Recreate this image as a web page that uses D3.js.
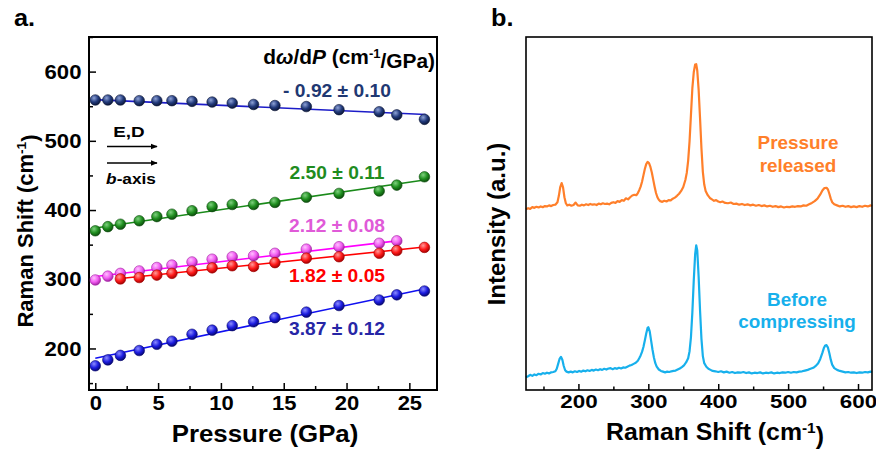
<!DOCTYPE html>
<html>
<head>
  <script src="https://d3js.org/d3.v7.min.js"></script>
  <style>
    body { margin: 0; background: #fff; }
    svg { display: block; }
  </style>
</head>
<body>
  <svg id="fig" width="876" height="453"></svg>
  <script>
    // ---- panel a data: pressure (GPa) and Raman shift (cm-1) ----
    const pressure = [0, 1.0, 2.0, 3.5, 4.9, 6.1, 7.7, 9.3, 10.9, 12.6, 14.3, 16.8, 19.4, 22.6, 24.0, 26.2];
    const modeNavy = [559, 559, 559, 558, 558, 558, 557, 556, 554.5, 552.5, 551, 549.5, 545, 542, 537.5, 531];
    const modeGreen = [370, 376, 379.5, 384.5, 390.5, 394, 399, 405, 408, 408, 411, 418.5, 424, 427.5, 436, 448];
    const modeMagenta = [299, 304.5, 308.5, 312, 317, 320.5, 325, 329, 332.5, 334, 337.5, 343.5, 347, 352, 355.5];
    const modeRed = [null, null, 300.5, 302.5, 306, 308.5, 312, 316.5, 319.5, 318.5, 324, 330.5, 332.5, 337.5, 341.5, 346];
    const modeBlue = [175, 183.5, 190, 197, 206, 210.5, 220.5, 226.5, 233, 238.5, 244.5, 252.5, 262, 270, 277.5, 283];
    // linear fits, [P, shift] at both ends
    const fitNavy = [[-0.1, 559.5], [26.3, 538]];
    const fitGreen = [[0, 374], [26.2, 443.5]];
    const fitMagenta = [[0, 304], [24.0, 355.5]];
    const fitRed = [[2.0, 301], [26.2, 346.5]];
    const fitBlue = [[0, 186], [26.2, 286]];
    const slopeLabels = ["- 0.92 \u00b1 0.10", "2.50 \u00b1 0.11", "2.12 \u00b1 0.08", "1.82 \u00b1 0.05", "3.87 \u00b1 0.12"];
    const pressureTicks = [0, 5, 10, 15, 20, 25];
    const shiftTicks = [200, 300, 400, 500, 600];

    // ---- panel b data: [Raman shift, intensity a.u.] ----
    const released = [
      [125, 51.2], [128, 51.5], [131, 51.3], [134, 51.8], [137, 51.6], [140, 51.9], [143, 51.7], [146, 52.0], [149, 51.8],
      [152, 52.1], [155, 52.0], [158, 52.3], [161, 52.1], [164, 52.4], [167, 52.5], [170, 53.2], [172, 55.0], [174, 57.5],
      [176, 58.6], [178, 57.4], [180, 54.6], [182, 52.9], [184, 52.3], [187, 52.5], [190, 52.2], [193, 52.4], [196, 53.1],
      [199, 52.3], [202, 52.2], [205, 52.5], [208, 52.3], [211, 52.6], [214, 52.4], [217, 52.7], [220, 52.5], [223, 52.6],
      [226, 52.4], [229, 52.8], [232, 52.6], [235, 52.9], [238, 52.7], [241, 52.8], [244, 52.6], [247, 53.0], [250, 53.2],
      [253, 53.0], [256, 53.5], [259, 53.3], [262, 53.8], [265, 53.6], [268, 54.3], [271, 54.0], [274, 54.6], [277, 55.1],
      [280, 55.3], [283, 55.2], [285, 55.8], [287, 56.6], [289, 57.6], [291, 59.0], [293, 60.8], [295, 62.6], [297, 64.0],
      [299, 64.6], [301, 64.3], [303, 63.2], [305, 61.6], [307, 59.6], [309, 57.6], [311, 55.8], [313, 54.6], [315, 53.9],
      [317, 53.5], [320, 53.3], [323, 53.6], [326, 53.4], [329, 53.8], [332, 53.7], [335, 54.2], [338, 54.5], [341, 55.0],
      [344, 55.6], [347, 56.4], [350, 57.5], [353, 59.5], [355, 61.5], [357, 65.0], [359, 70.5], [361, 78.0], [363, 85.5],
      [365, 90.0], [367, 92.2], [368.5, 92.3], [370, 90.5], [372, 85.0], [374, 77.0], [376, 68.5], [378, 61.8], [380, 58.2],
      [382, 56.4], [385, 55.2], [388, 54.4], [391, 54.0], [394, 53.6], [397, 53.8], [400, 53.4], [403, 53.2], [406, 53.4],
      [410, 53.0], [414, 52.9], [418, 53.1], [422, 52.7], [426, 52.8], [430, 52.5], [434, 52.7], [438, 52.4], [442, 52.6],
      [446, 52.3], [450, 52.5], [454, 52.2], [458, 52.4], [462, 52.1], [466, 52.3], [470, 52.0], [474, 52.2], [478, 51.9],
      [482, 52.1], [486, 51.8], [490, 52.0], [494, 51.7], [498, 51.9], [502, 51.8], [506, 52.0], [510, 51.9], [514, 52.1],
      [518, 52.0], [522, 52.3], [526, 52.2], [530, 52.6], [534, 53.0], [538, 53.5], [542, 54.2], [546, 55.4], [549, 56.5],
      [552, 57.2], [555, 57.3], [557, 56.8], [559, 55.6], [561, 54.2], [563, 53.2], [566, 52.6], [570, 52.3], [574, 52.0],
      [578, 52.2], [582, 51.9], [586, 52.1], [590, 51.8], [594, 52.0], [598, 51.8], [602, 52.1], [606, 51.9], [610, 52.2],
      [614, 52.0], [618, 52.3], [620, 52.1]
    ];
    const before = [
      [125, 3.6], [128, 3.9], [131, 4.3], [134, 4.0], [137, 4.4], [140, 4.2], [143, 4.6], [146, 4.4], [149, 4.8], [152, 4.6],
      [155, 4.9], [158, 4.7], [161, 5.0], [164, 5.1], [167, 5.3], [169, 6.0], [171, 7.4], [173, 8.8], [175, 9.4], [177, 8.6],
      [179, 6.8], [181, 5.6], [183, 5.2], [186, 5.0], [189, 5.2], [192, 5.0], [195, 5.3], [198, 5.1], [201, 5.4], [204, 5.2],
      [207, 5.5], [210, 5.3], [213, 5.6], [216, 5.4], [219, 5.7], [222, 5.5], [225, 5.8], [228, 5.6], [231, 5.9], [234, 5.7],
      [237, 6.0], [240, 5.8], [243, 6.1], [246, 6.2], [249, 5.9], [252, 6.2], [255, 6.0], [258, 6.3], [261, 6.1], [264, 6.4],
      [267, 6.3], [270, 6.6], [273, 6.9], [276, 7.1], [279, 7.4], [282, 7.7], [285, 8.3], [287, 9.0], [289, 9.8], [291, 10.8],
      [293, 12.2], [295, 14.0], [297, 16.0], [299, 17.6], [300, 17.8], [302, 16.6], [304, 14.0], [306, 11.4], [308, 9.2],
      [310, 7.6], [312, 6.6], [315, 5.8], [318, 5.4], [321, 5.2], [324, 5.0], [327, 5.2], [330, 5.1], [333, 5.3], [336, 5.4],
      [339, 5.5], [342, 5.8], [345, 6.1], [348, 6.5], [351, 7.0], [354, 7.8], [357, 9.0], [359, 11.0], [361, 15.0],
      [363, 22.0], [365, 31.0], [367, 38.5], [368.5, 41.0], [370, 39.5], [372, 32.0], [374, 22.5], [376, 14.5], [378, 9.6],
      [380, 7.6], [383, 6.6], [386, 6.0], [389, 5.7], [392, 5.4], [396, 5.3], [400, 5.1], [404, 5.3], [408, 5.0], [412, 5.2],
      [416, 4.9], [420, 5.1], [424, 4.8], [428, 5.0], [432, 4.9], [436, 5.1], [440, 4.8], [444, 5.0], [448, 4.7], [452, 4.9],
      [456, 4.8], [460, 5.0], [464, 4.7], [468, 4.9], [472, 4.8], [476, 5.0], [480, 4.7], [484, 4.9], [488, 4.8], [492, 5.0],
      [496, 4.9], [500, 5.1], [504, 4.9], [508, 5.1], [512, 5.0], [516, 5.2], [520, 5.3], [524, 5.5], [528, 5.7], [532, 6.0],
      [536, 6.3], [540, 6.9], [543, 7.6], [546, 8.8], [549, 10.5], [551, 11.8], [553, 12.6], [555, 12.7], [557, 12.0],
      [559, 10.4], [561, 8.6], [563, 7.2], [566, 6.2], [570, 5.7], [574, 5.4], [578, 5.2], [582, 5.0], [586, 5.1], [590, 4.9],
      [594, 5.0], [598, 4.8], [602, 5.0], [606, 4.9], [610, 5.1], [614, 5.0], [618, 5.2], [620, 5.1]
    ];
    const ramanTicks = [200, 300, 400, 500, 600];

    const FONT = "'Liberation Sans', Arial, sans-serif";
    const svg = d3.select("#fig");
    const defs = svg.append("defs");

    // bold text with a slight horizontal stretch like the original figure
    function addText(parent, x, y, size, sx, anchor, fill) {
      const g = parent.append("g").attr("transform", `translate(${x},${y}) scale(${sx},1)`);
      return g.append("text")
        .attr("text-anchor", anchor)
        .attr("fill", fill || "#000")
        .style("font", `bold ${size}px ${FONT}`);
    }
    function supScript(t, s) {
      t.append("tspan").attr("dy", "-0.5em").style("font-size", "0.62em").text(s);
      return t.append("tspan").attr("dy", "0.5em");
    }

    // ======================= panel a =======================
    const xA = d3.scaleLinear().domain([-0.5, 27.2]).range([89, 437]);
    const yA = d3.scaleLinear().domain([140, 650]).range([390, 37]);
    const gA = svg.append("g");

    // axes (ticks point inward)
    const axA1 = gA.append("g").attr("transform", "translate(0,390)")
      .call(d3.axisBottom(xA).tickValues(pressureTicks).tickSize(-7).tickPadding(6));
    gA.append("g").attr("transform", "translate(0,390)")
      .call(d3.axisBottom(xA).tickValues([2.5, 7.5, 12.5, 17.5, 22.5]).tickSize(-4).tickFormat(""));
    const axA2 = gA.append("g").attr("transform", "translate(89,0)")
      .call(d3.axisLeft(yA).tickValues(shiftTicks).tickSize(-7).tickPadding(7));
    gA.append("g").attr("transform", "translate(89,0)")
      .call(d3.axisLeft(yA).tickValues([150, 250, 350, 450, 550, 650]).tickSize(-4).tickFormat(""));
    gA.selectAll(".domain").remove();
    gA.selectAll(".tick line").attr("stroke", "#000").attr("stroke-width", 1.5);
    axA1.selectAll("text").attr("fill", "#000").style("font", `bold 20px ${FONT}`)
      .attr("transform", "scale(1.1,1)");
    axA2.selectAll("text").attr("fill", "#000").style("font", `bold 20.5px ${FONT}`)
      .attr("transform", "scale(1.08,1)");

    gA.append("rect").attr("x", 89).attr("y", 37).attr("width", 348).attr("height", 353)
      .attr("fill", "none").attr("stroke", "#000").attr("stroke-width", 2);

    const series = [
      { vals: modeNavy, fit: fitNavy, dot: ["#8ea2d6", "#223a7c", "#0b1636"], line: "#1c1cc8", lab: "#1f3872", ly: 97 },
      { vals: modeGreen, fit: fitGreen, dot: ["#7fd07f", "#1f8f1f", "#0c4a0c"], line: "#1a8a1a", lab: "#1f8c1f", ly: 179 },
      { vals: modeMagenta, fit: fitMagenta, dot: ["#ffc0ff", "#f25cf2", "#a020a0"], line: "#ff00ff", lab: "#e05ad8", ly: 232 },
      { vals: modeRed, fit: fitRed, dot: ["#ff9a9a", "#ff1a1a", "#a00000"], line: "#ff0000", lab: "#ff0000", ly: 282 },
      { vals: modeBlue, fit: fitBlue, dot: ["#8c8cff", "#1c1ce0", "#06066e"], line: "#1010f0", lab: "#2626a6", ly: 335 }
    ];

    const line = d3.line().x(d => xA(d[0])).y(d => yA(d[1]));
    series.forEach((s, i) => {
      const grad = defs.append("radialGradient").attr("id", "ball" + i)
        .attr("cx", "38%").attr("cy", "32%").attr("r", "70%");
      grad.append("stop").attr("offset", "0%").attr("stop-color", s.dot[0]);
      grad.append("stop").attr("offset", "55%").attr("stop-color", s.dot[1]);
      grad.append("stop").attr("offset", "100%").attr("stop-color", s.dot[2]);

      gA.append("path").attr("d", line(s.fit)).attr("fill", "none")
        .attr("stroke", s.line).attr("stroke-width", 1.6);

      const pts = s.vals.map((v, j) => [pressure[j], v]).filter(d => d[1] != null);
      gA.append("g").selectAll("circle").data(pts).join("circle")
        .attr("cx", d => xA(d[0])).attr("cy", d => yA(d[1])).attr("r", 5.3)
        .attr("fill", `url(#ball${i})`).attr("stroke", s.dot[2]).attr("stroke-width", 0.6);

      addText(gA, 337, s.ly, 18.5, 1.04, "middle", s.lab).text(slopeLabels[i]);
    });

    // slope header
    const hdr = addText(gA, 435, 64, 20.5, 1.02, "end", "#000");
    hdr.append("tspan").text("d");
    hdr.append("tspan").style("font-style", "italic").text("\u03c9");
    hdr.append("tspan").text("/d");
    hdr.append("tspan").style("font-style", "italic").text("P");
    const hRest = hdr.append("tspan").text(" (cm");
    supScript(hdr, "-1").text("/GPa)");

    // polarisation arrows
    defs.append("marker").attr("id", "arrowHead").attr("viewBox", "0 0 10 10")
      .attr("refX", 9).attr("refY", 5).attr("markerWidth", 7).attr("markerHeight", 7)
      .attr("markerUnits", "userSpaceOnUse").attr("orient", "auto")
      .append("path").attr("d", "M0,1 L10,5 L0,9 Z").attr("fill", "#000");
    [146.5, 163].forEach(y => {
      gA.append("line").attr("x1", 107).attr("x2", 157).attr("y1", y).attr("y2", y)
        .attr("stroke", "#000").attr("stroke-width", 1.5).attr("marker-end", "url(#arrowHead)");
    });
    addText(gA, 129, 137, 14.5, 1.3, "middle").text("E,D");
    const bax = addText(gA, 131, 184, 15, 1.15, "middle");
    bax.append("tspan").style("font-style", "italic").text("b");
    bax.append("tspan").text("-axis");

    // axis titles
    addText(gA, 265, 442, 23.5, 1.1, "middle").text("Pressure (GPa)");
    const yt = gA.append("text").attr("transform", "translate(33,231) rotate(-90)")
      .attr("text-anchor", "middle").style("font", `bold 22px ${FONT}`);
    yt.append("tspan").text("Raman Shift (cm");
    supScript(yt, "-1").text(")");

    addText(gA, 14, 26, 23, 1.1, "start").text("a.");

    // ======================= panel b =======================
    const xB = d3.scaleLinear().domain([125, 620]).range([526, 872]);
    const yB = d3.scaleLinear().domain([0, 100]).range([390, 37]);
    const gB = svg.append("g");

    const axB = gB.append("g").attr("transform", "translate(0,390)")
      .call(d3.axisBottom(xB).tickValues(ramanTicks).tickSize(-6).tickPadding(5));
    gB.append("g").attr("transform", "translate(0,390)")
      .call(d3.axisBottom(xB).tickValues([150, 250, 350, 450, 550]).tickSize(-3.5).tickFormat(""));
    gB.selectAll(".domain").remove();
    gB.selectAll(".tick line").attr("stroke", "#000").attr("stroke-width", 1.5);
    axB.selectAll("text").attr("fill", "#000").style("font", `bold 19px ${FONT}`)
      .attr("transform", "scale(1.18,1)");

    const spec = d3.line().x(d => xB(d[0])).y(d => yB(d[1]));
    gB.append("path").attr("d", spec(released)).attr("fill", "none")
      .attr("stroke", "#ff7f2a").attr("stroke-width", 2.2).attr("stroke-linejoin", "round");
    gB.append("path").attr("d", spec(before)).attr("fill", "none")
      .attr("stroke", "#17b0ec").attr("stroke-width", 2.2).attr("stroke-linejoin", "round");

    gB.append("rect").attr("x", 526).attr("y", 37).attr("width", 346).attr("height", 353)
      .attr("fill", "none").attr("stroke", "#000").attr("stroke-width", 1.6);

    addText(gB, 798, 149, 17.5, 1.08, "middle", "#ff7f2a").text("Pressure");
    addText(gB, 798, 172, 17.5, 1.08, "middle", "#ff7f2a").text("released");
    addText(gB, 797, 306, 17.5, 1.08, "middle", "#17b0ec").text("Before");
    addText(gB, 797, 328, 17.5, 1.08, "middle", "#17b0ec").text("compressing");

    const xt = addText(gB, 715, 440, 23, 1.08, "middle");
    xt.append("tspan").text("Raman Shift (cm");
    supScript(xt, "-1").text(")");
    gB.append("text").attr("transform", "translate(505,224) rotate(-90)")
      .attr("text-anchor", "middle").style("font", `bold 24px ${FONT}`).text("Intensity (a.u.)");

    addText(gB, 491, 26, 23, 1.1, "start").text("b.");
  </script>
</body>
</html>
